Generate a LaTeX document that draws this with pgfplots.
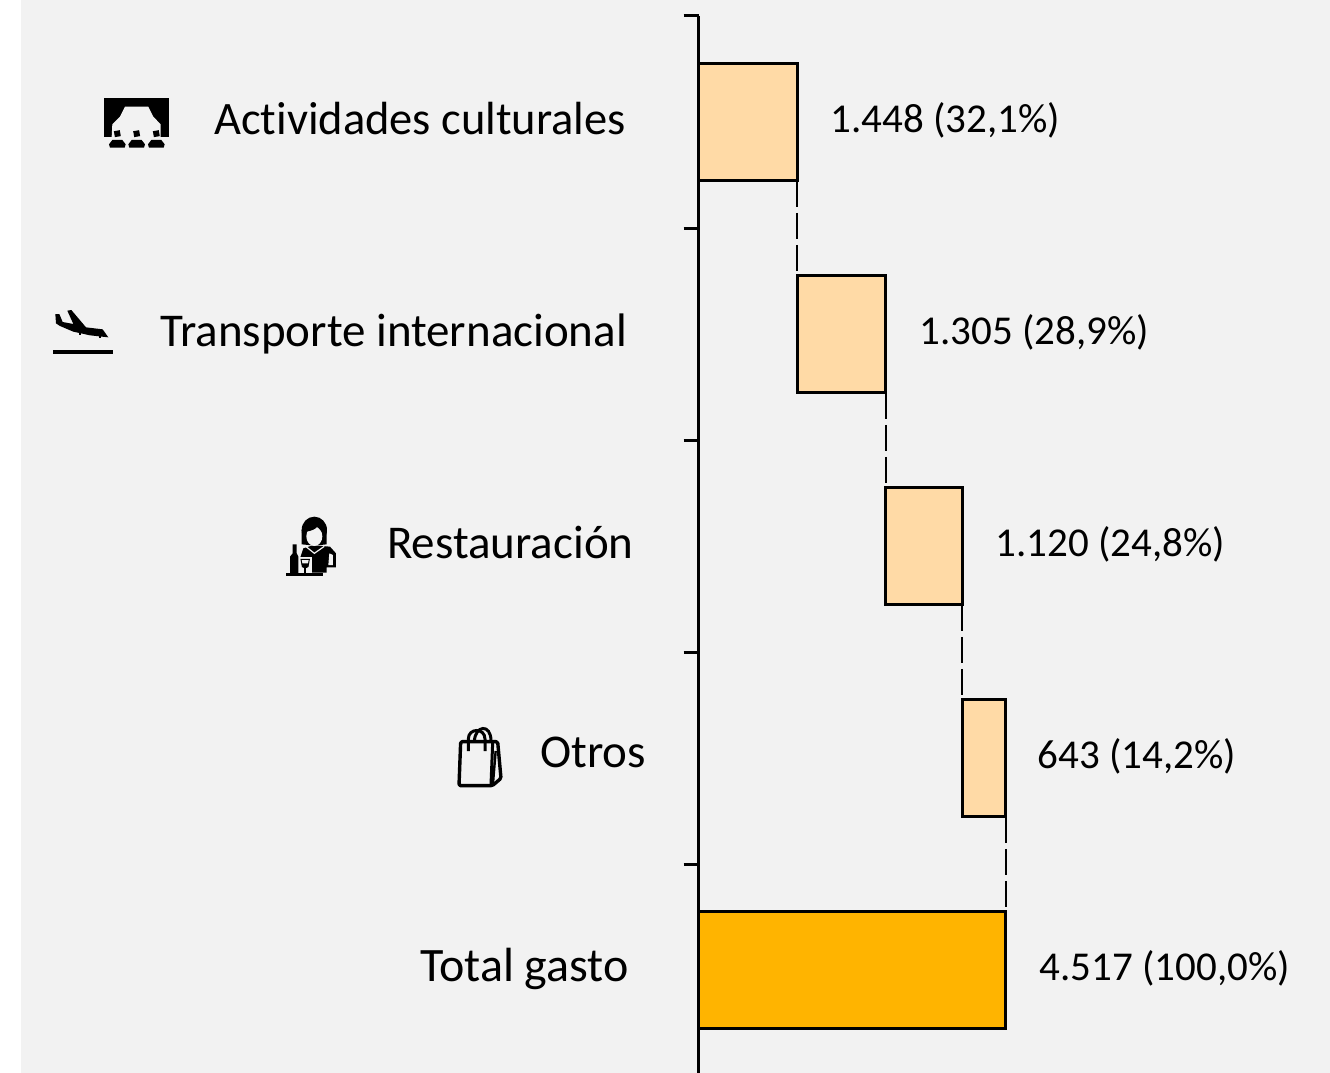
\documentclass[border=0pt]{standalone}
\usepackage{pgfplots}
\pgfplotsset{compat=1.18}
\usepackage{fontspec}
\setmainfont[Ligatures=NoCommon]{Carlito}
\definecolor{fondo}{HTML}{F2F2F2}
\definecolor{claro}{HTML}{FFDAA6}
\definecolor{total}{HTML}{FFB400}

\pgfplotstableread{
y total offset value
0 0 0 1448
1 0 1448 1305
2 0 2753 1120
3 0 3873 643
4 4517 4517 0
}\gasto

\pgfplotsset{panel/.style={
  at={(698.5pt,-1073pt)}, anchor=south west,
  scale only axis, width=631.5pt, height=1057pt,
  xmin=0, xmax=9280, ymin=-0.5, ymax=4.4858, y dir=reverse,
  clip=false,
}}

\begin{document}
\begin{tikzpicture}[x=1pt,y=-1pt]
\useasboundingbox (0,0) rectangle (1330,1073);
\fill[fondo] (21,0) rectangle (1330,1073);

% connectors and value labels
\begin{axis}[panel, hide axis]
\addplot[black, line width=2.6pt, dash pattern=on 26pt off 6pt] coordinates {(1448,0.278) (1448,0.722)};
\addplot[black, line width=2.6pt, dash pattern=on 26pt off 6pt] coordinates {(2753,1.278) (2753,1.722)};
\addplot[black, line width=2.6pt, dash pattern=on 26pt off 6pt] coordinates {(3873,2.278) (3873,2.722)};
\addplot[black, line width=2.6pt, dash pattern=on 26pt off 6pt] coordinates {(4517,3.278) (4517,3.722)};
\addplot[only marks, mark=none, point meta=explicit symbolic, nodes near coords,
  every node near coord/.append style={anchor=west, inner sep=0pt, xshift=33.5pt, yshift=2pt,
    font=\fontsize{41}{49}\selectfont, text=black}]
  table[x=x, y=y, meta=label] {
x y label
1448 0 {1.448 (32,1\%)}
2753 1 {1.305 (28,9\%)}
3873 2 {1.120 (24,8\%)}
4490 3 {643 (14,2\%)}
4517 4 {4.517 (100,0\%)}
};
\end{axis}

% bars
\begin{axis}[panel, xbar stacked, bar width=117pt, bar shift=0pt,
  axis x line=none, axis y line*=left,
  axis line style={line width=3pt, -},
  ytick={-0.5,0.5,1.5,2.5,3.5}, yticklabels={},
  tick align=outside, major tick length=15pt,
  tick style={black, line width=3pt}]
\addplot[draw=black, line width=3pt, fill=total] table[x=total, y=y] {\gasto};
\addplot[draw=none, fill=none] table[x=offset, y=y] {\gasto};
\addplot[draw=black, line width=3pt, fill=claro] table[x=value, y=y] {\gasto};
\end{axis}

% category names
\begin{scope}[every node/.style={anchor=base west, inner sep=0pt, font=\fontsize{47}{56}\selectfont}]
\node[font=\fontsize{46.5}{56}\selectfont] at (214,134) {Actividades culturales};
\node at (160,346) {Transporte internacional};
\node at (387,558) {Restauración};
\node at (540,767) {Otros};
\node[font=\fontsize{48}{56}\selectfont] at (420,981) {Total gasto};
\end{scope}

% stage icon
\begin{scope}[shift={(90pt,-85pt)}, x=0.3333pt, y=-0.3333pt]
\fill[black] (43,40) rectangle (237,155);
\fill[fondo] (105,65) -- (175,65) -- (190,95) -- (212,118) -- (212,156) -- (65,156) -- (67,118) -- (90,95) -- cycle;
\foreach \cx in {82,140,199} {
  \fill[black, rotate around={10:(\cx,146)}] (\cx-9,137) rectangle (\cx+9,155);
  \fill[black] (\cx-15,165) -- (\cx+15,165) -- (\cx+25,178) -- (\cx+22,188) -- (\cx-22,188) -- (\cx-25,178) -- cycle;
}
\end{scope}

% plane icon
\begin{scope}[shift={(40pt,-300pt)}, x=0.3333pt, y=-0.3333pt]
\fill[black] (39,150) rectangle (219,162);
\fill[black] (46,42) -- (58,42) -- (68,66) -- (100,72) -- (82,32) -- (94,30) -- (138,82) -- (188,88) -- (205,112) -- (150,106) -- (100,95) -- (60,78) -- (48,70) -- cycle;
\fill[black] (117,95) rectangle (123,104);
\fill[black] (177,105) rectangle (183,113);
\end{scope}

% waitress icon
\begin{scope}[shift={(275pt,-505pt)}, x=0.3333pt, y=-0.3333pt]
\fill[black] (85,130) -- (110,122) -- (130,122) -- (165,125) -- (183,145) -- (183,187) -- (155,187) -- (155,203) -- (100,203) -- (95,170) -- (75,160) -- cycle;
\fill[black] (118,75) ellipse [x radius=38, y radius=40];
\fill[black] (80,75) -- (80,118) -- (100,120) -- (137,120) -- (155,118) -- (155,75) -- cycle;
\fill[fondo] (118,94) ellipse [x radius=24, y radius=29];
\fill[black] (92,80) .. controls (110,78) and (122,72) .. (128,64) .. controls (132,72) and (138,78) .. (146,82) -- (146,60) -- (92,60) -- cycle;
\draw[fondo, line width=1.2pt] (92,124) -- (118,145) -- (148,124);
\fill[fondo] (163,145) -- (174,150) -- (174,180) -- (160,180) -- cycle;
\fill[fondo] (70,155) rectangle (112,204);
\fill[black] (53,118) -- (65,118) -- (65,145) -- (70,155) -- (70,206) -- (45,206) -- (45,155) -- (53,145) -- cycle;
\draw[black, line width=1pt] (78,163) -- (103,163) -- (99,185) .. controls (96,190) and (85,190) .. (82,185) -- cycle;
\fill[black] (80,175) -- (101,175) -- (99,185) .. controls (96,190) and (85,190) .. (82,185) -- cycle;
\draw[black, line width=1.2pt] (90,188) -- (90,205);
\fill[black] (33,204) rectangle (143,212);
\end{scope}

% bag icon
\begin{scope}[shift={(445pt,-715pt)}, x=0.3333pt, y=-0.3333pt]
\draw[black, line width=3.4pt, line join=round, rounded corners=1.5pt] (47,80) -- (158,80) -- (168,190) -- (142,212) -- (42,212) -- cycle;
\draw[black, line width=3pt] (143,84) -- (138,210);
\draw[black, line width=2.4pt] (152,108) -- (144,205);
\draw[black, line width=3pt] (70,108) -- (70,72) .. controls (70,38) and (120,38) .. (120,72) -- (120,108);
\draw[black, line width=3pt] (88,80) .. controls (90,30) and (138,25) .. (138,78);
\end{scope}
\end{tikzpicture}
\end{document}
